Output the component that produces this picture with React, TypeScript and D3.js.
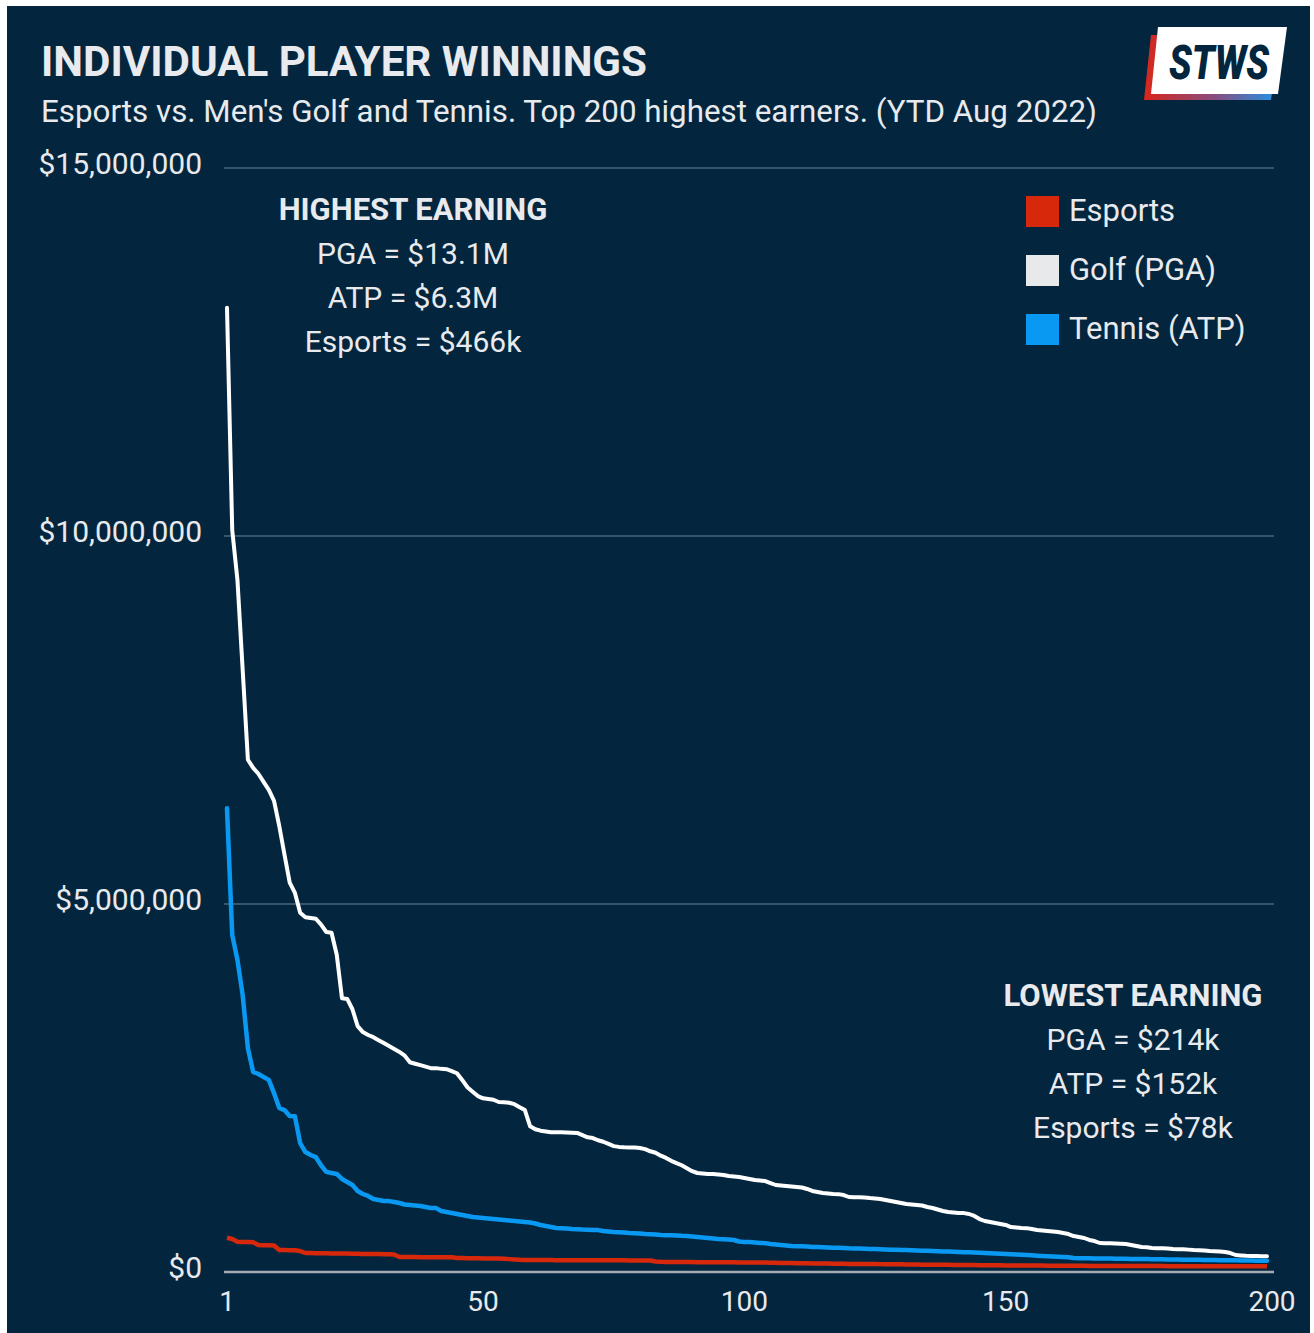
import React from "react";
import * as d3 from "d3";

// earnings in $k, rank 1..200
const golfK = [
  13100, 10080, 9400, 8180, 6960, 6850, 6770, 6660, 6550, 6400,
  6060, 5670, 5290, 5150, 4880, 4820, 4810, 4800, 4720, 4620,
  4610, 4310, 3720, 3710, 3570, 3340, 3260, 3220, 3190, 3150,
  3110, 3070, 3030, 2990, 2940, 2850, 2830, 2810, 2790, 2770,
  2770, 2760, 2755, 2730, 2700, 2610, 2510, 2450, 2390, 2360,
  2350, 2340, 2310, 2305, 2300, 2280, 2240, 2200, 1980, 1940,
  1920, 1910, 1900, 1900, 1898, 1895, 1893, 1890, 1860, 1830,
  1820, 1790, 1770, 1740, 1710, 1700, 1695, 1693, 1690, 1685,
  1670, 1640, 1620, 1580, 1550, 1510, 1480, 1450, 1410, 1370,
  1345, 1338, 1332, 1330, 1325, 1318, 1304, 1298, 1291, 1277,
  1264, 1250, 1243, 1236, 1209, 1182, 1175, 1168, 1162, 1155,
  1148, 1128, 1101, 1087, 1073, 1067, 1060, 1058, 1046, 1019,
  1017, 1015, 1013, 1005, 1000, 992, 978, 965, 951, 937,
  924, 917, 910, 903, 883, 870, 849, 829, 815, 808,
  802, 800, 788, 761, 720, 693, 679, 666, 652, 639,
  611, 605, 598, 596, 584, 571, 564, 557, 550, 543,
  530, 516, 489, 476, 462, 435, 421, 394, 392, 390,
  388, 385, 380, 367, 353, 340, 335, 326, 324, 322,
  318, 312, 310, 308, 304, 299, 297, 293, 285, 283,
  279, 272, 258, 231, 225, 220, 219, 217, 215, 214,
];

const tennisK = [
  6300, 4580, 4240, 3760, 3040, 2720, 2690, 2650, 2610, 2430,
  2230, 2200, 2120, 2115, 1750, 1630, 1590, 1560, 1450, 1360,
  1345, 1332, 1264, 1223, 1182, 1101, 1060, 1033, 992, 978,
  965, 963, 951, 937, 917, 910, 903, 897, 883, 870,
  868, 829, 815, 802, 788, 774, 761, 747, 740, 734,
  727, 720, 713, 707, 700, 693, 686, 679, 673, 659,
  639, 625, 611, 598, 596, 591, 584, 582, 577, 575,
  571, 569, 557, 550, 543, 541, 537, 530, 528, 523,
  516, 514, 510, 503, 501, 499, 497, 492, 489, 482,
  476, 469, 462, 455, 448, 446, 441, 435, 414, 408,
  406, 401, 394, 392, 380, 374, 367, 360, 353, 351,
  349, 346, 340, 338, 336, 334, 330, 328, 326, 322,
  320, 318, 315, 313, 311, 308, 306, 304, 302, 300,
  298, 296, 293, 290, 288, 285, 282, 279, 277, 275,
  272, 270, 268, 265, 262, 258, 255, 252, 248, 245,
  241, 238, 235, 230, 226, 222, 218, 214, 211, 208,
  204, 200, 190, 188, 187, 186, 185, 184, 183, 182,
  181, 180, 179, 178, 177, 176, 175, 174, 173, 172,
  171, 170, 169, 168, 167, 166, 165, 164, 163, 162,
  161, 160, 159, 158, 157, 156, 155, 154, 153, 152,
];

const esportsK = [
  466, 448, 410, 408, 406, 404, 367, 365, 363, 360,
  299, 298, 297, 296, 285, 258, 257, 256, 255, 254,
  253, 252, 251, 250, 249, 248, 246, 245, 244, 243,
  242, 240, 238, 204, 204, 203, 203, 202, 202, 201,
  201, 200, 200, 199, 190, 189, 188, 187, 186, 185,
  184, 183, 182, 180, 175, 170, 165, 163, 163, 163,
  162, 162, 162, 161, 161, 161, 160, 160, 160, 160,
  159, 159, 159, 158, 158, 158, 158, 157, 157, 157,
  156, 156, 143, 138, 137, 137, 136, 136, 135, 135,
  134, 134, 133, 133, 132, 132, 131, 131, 130, 130,
  129, 129, 128, 128, 125, 124, 123, 122, 121, 120,
  119, 118, 117, 116, 115, 114, 113, 112, 111, 110,
  110, 109, 109, 108, 108, 107, 106, 105, 104, 104,
  103, 102, 101, 100, 100, 99, 98, 98, 97, 96,
  96, 95, 94, 94, 93, 92, 92, 91, 91, 90,
  90, 89, 89, 88, 88, 87, 87, 86, 86, 85,
  85, 85, 84, 84, 84, 83, 83, 83, 82, 82,
  82, 81, 81, 81, 81, 80, 80, 80, 80, 80,
  79, 79, 79, 79, 79, 79, 79, 79, 78, 78,
  78, 78, 78, 78, 78, 78, 78, 78, 78, 78,
];

const yTicks = [0, 5000000, 10000000, 15000000];
const xTicks = [1, 50, 100, 150, 200];

const seriesNames = ["Esports", "Golf (PGA)", "Tennis (ATP)"];
const seriesColors = ["#d8280c", "#e8e9eb", "#0a99f2"];

const highLines = ["PGA = $13.1M", "ATP = $6.3M", "Esports = $466k"];
const lowLines = ["PGA = $214k", "ATP = $152k", "Esports = $78k"];

const W = 1314;
const H = 1333;
const BG = "#03263e";
const TXT = "#e8eaed";
const FONT = "Roboto, 'Noto Sans', sans-serif";

export default function App() {
  const x = d3.scaleLinear().domain([1, 200]).range([227, 1267]);
  const y = d3.scaleLinear().domain([0, 15000000]).range([1272, 168]);

  const line = d3
    .line<number>()
    .x((d, i) => x(i + 1))
    .y((d) => y(d * 1000));

  const fmt = (v: number) => "$" + d3.format(",")(v);

  return (
    <svg
      width={W}
      height={H}
      style={{ position: "absolute", left: 0, top: 0, fontFamily: FONT }}
    >
      <defs>
        <linearGradient id="logoGrad" x1="0" x2="1" y1="0" y2="0">
          <stop offset="0" stopColor="#d8261a" />
          <stop offset="0.5" stopColor="#8b4b7c" />
          <stop offset="1" stopColor="#1f96ea" />
        </linearGradient>
      </defs>
      <rect x={7} y={6} width={1303} height={1327} fill={BG} />

      {/* titles */}
      <text x={41} y={76} fontSize={43} fontWeight={700} fill={TXT} textLength={606} lengthAdjust="spacingAndGlyphs">
        INDIVIDUAL PLAYER WINNINGS
      </text>
      <text x={41} y={122} fontSize={31} fill={TXT} textLength={1056} lengthAdjust="spacingAndGlyphs">
        Esports vs. Men's Golf and Tennis. Top 200 highest earners. (YTD Aug 2022)
      </text>

      {/* logo */}
      <polygon points="1151,35 1280,35 1271,100 1144,100" fill="url(#logoGrad)" />
      <polygon points="1158,27 1287,27 1278,94 1151,94" fill="#ffffff" />
      <text x={1219} y={79} fontSize={48} fontWeight={900} fontStyle="italic" fill={BG} textAnchor="middle" textLength={100} lengthAdjust="spacingAndGlyphs">
        STWS
      </text>

      {/* grid + y axis */}
      {yTicks.map((t) => (
        <g key={t}>
          <line
            x1={224}
            x2={1274}
            y1={y(t)}
            y2={y(t)}
            stroke={t === 0 ? "#a4adb3" : "#4d6678"}
            strokeWidth={t === 0 ? 2.5 : 1.5}
          />
          <text x={202} y={y(t) + 6} fontSize={30} fill={TXT} textAnchor="end">
            {fmt(t)}
          </text>
        </g>
      ))}

      {/* x axis labels */}
      {xTicks.map((t, i) => (
        <text key={t} x={x(t) + (i === xTicks.length - 1 ? 5 : 0)} y={1311} fontSize={28} fill={TXT} textAnchor="middle">
          {t}
        </text>
      ))}

      {/* lines */}
      <path d={line(golfK) || ""} fill="none" stroke="#ffffff" strokeWidth={4} strokeLinejoin="round" strokeLinecap="round" />
      <path d={line(tennisK) || ""} fill="none" stroke={seriesColors[2]} strokeWidth={4.5} strokeLinejoin="round" strokeLinecap="round" />
      <path d={line(esportsK) || ""} fill="none" stroke={seriesColors[0]} strokeWidth={4.5} strokeLinejoin="round" />

      {/* legend */}
      {seriesNames.map((n, i) => (
        <g key={n} transform={`translate(1026,${196 + i * 59})`}>
          <rect width={33} height={31} fill={seriesColors[i]} />
          <text x={43} y={25} fontSize={31} fill={TXT}>
            {n}
          </text>
        </g>
      ))}

      {/* annotations */}
      <text x={413} y={220} fontSize={31} fontWeight={700} fill={TXT} textAnchor="middle">
        HIGHEST EARNING
      </text>
      {highLines.map((s, i) => (
        <text key={s} x={413} y={264 + i * 44} fontSize={30} fill={TXT} textAnchor="middle">
          {s}
        </text>
      ))}
      <text x={1133} y={1006} fontSize={31} fontWeight={700} fill={TXT} textAnchor="middle">
        LOWEST EARNING
      </text>
      {lowLines.map((s, i) => (
        <text key={s} x={1133} y={1050 + i * 44} fontSize={30} fill={TXT} textAnchor="middle">
          {s}
        </text>
      ))}
    </svg>
  );
}
